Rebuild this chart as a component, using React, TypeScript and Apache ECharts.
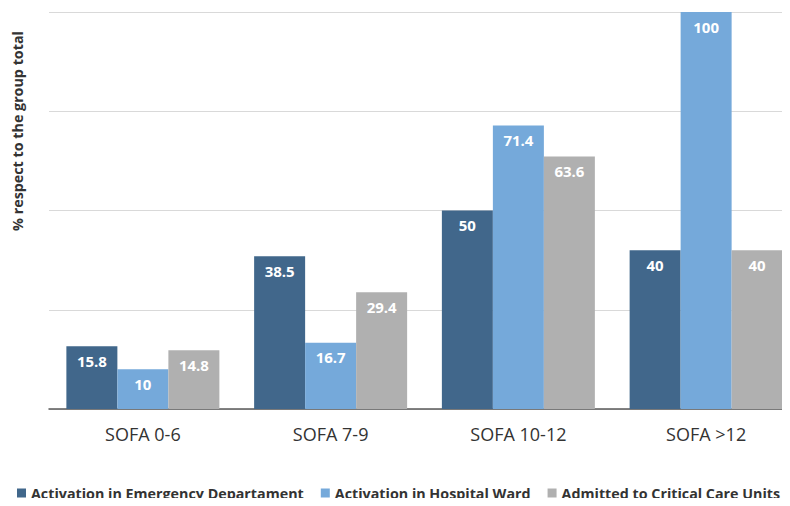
import React, { useEffect, useRef } from "react";
import * as echarts from "echarts";

const categories = ["SOFA 0-6", "SOFA 7-9", "SOFA 10-12", "SOFA >12"];
const seriesNames = [
  "Activation in Emergency Departament",
  "Activation in Hospital Ward",
  "Admitted to Critical Care Units",
];
const emergency = [15.8, 38.5, 50, 40];
const ward = [10, 16.7, 71.4, 100];
const critical = [14.8, 29.4, 63.6, 40];
const colors = ["#41678B", "#75A9DA", "#B0B0B0"];
const yAxisTitle = "% respect to the group total";

const FONT = "'Open Sans', sans-serif";

export default function App() {
  const ref = useRef<HTMLDivElement>(null);
  useEffect(() => {
    if (!ref.current) return;
    const chart = echarts.init(ref.current, undefined, { renderer: "svg" });
    const data = [emergency, ward, critical];
    chart.setOption({
      animation: false,
      textStyle: { fontFamily: FONT },
      grid: { left: 49, width: 751, top: 12, bottom: 97, outerBoundsMode: "none", containLabel: false },
      xAxis: {
        type: "category",
        data: categories,
        axisTick: { show: false },
        axisLine: { lineStyle: { color: "#595959", width: 1.5 } },
        axisLabel: { color: "#333", fontSize: 18, margin: 16, fontFamily: FONT },
      },
      yAxis: {
        type: "value",
        min: 0,
        max: 100,
        interval: 25,
        axisLabel: { show: false },
        axisLine: { show: false },
        axisTick: { show: false },
        splitLine: { lineStyle: { color: "#D9D9D9", width: 1 } },
      },
      legend: {
        top: 486,
        left: 17,
        width: 800,
        padding: 0,
        icon: "rect",
        itemWidth: 9,
        itemHeight: 9,
        itemGap: 17,
        textStyle: { fontSize: 14.3, fontWeight: "bold", color: "#333", fontFamily: FONT },
        data: seriesNames,
      },
      graphic: [
        {
          type: "text",
          x: 17,
          y: 131,
          rotation: Math.PI / 2,
          style: {
            text: yAxisTitle,
            fontSize: 14.3,
            fontWeight: "bold",
            fill: "#333",
            fontFamily: FONT,
            align: "center",
            verticalAlign: "middle",
          },
        },
      ],
      series: seriesNames.map((name, i) => ({
        name,
        type: "bar",
        data: data[i],
        barWidth: 51,
        barGap: "0%",
        itemStyle: { color: colors[i] },
        label: {
          show: true,
          position: "insideTop",
          distance: 7,
          color: "#fff",
          fontSize: 15,
          fontWeight: "bold",
          fontFamily: FONT,
        },
      })),
    });
    return () => chart.dispose();
  }, []);
  return <div ref={ref} style={{ width: 790, height: 506, margin: -8 }} />;
}
